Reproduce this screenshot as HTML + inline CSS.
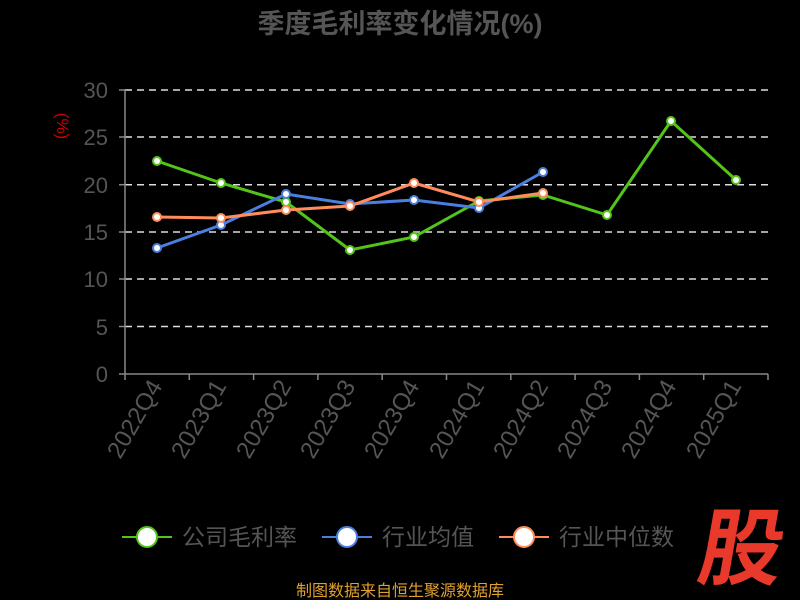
<!DOCTYPE html>
<html><head><meta charset="utf-8"><style>
body{margin:0;background:#000;width:800px;height:600px;overflow:hidden}
svg{display:block}
text{font-family:"Liberation Sans","Noto Sans CJK SC",sans-serif}
</style></head><body>
<svg width="800" height="600" viewBox="0 0 800 600">
<rect width="800" height="600" fill="#000"/>
<text x="400" y="33" text-anchor="middle" font-size="27" font-weight="bold" fill="#555">季度毛利率变化情况(%)</text>
<text x="0" y="0" transform="translate(57,126) rotate(90)" text-anchor="middle" font-size="17" fill="#c00">(%)</text>
<g stroke="#ddd" stroke-width="1.5" stroke-dasharray="7,5">
<line x1="125" y1="90" x2="768" y2="90"/><line x1="125" y1="137" x2="768" y2="137"/>
<line x1="125" y1="184.7" x2="768" y2="184.7"/><line x1="125" y1="232" x2="768" y2="232"/>
<line x1="125" y1="279" x2="768" y2="279"/><line x1="125" y1="326.5" x2="768" y2="326.5"/>
</g>
<g stroke="#888" stroke-width="1.5">
<line x1="125" y1="90" x2="125" y2="374"/><line x1="125" y1="374" x2="768" y2="374"/>
<line x1="119" y1="90" x2="125" y2="90"/><line x1="119" y1="137" x2="125" y2="137"/><line x1="119" y1="184.7" x2="125" y2="184.7"/><line x1="119" y1="232" x2="125" y2="232"/><line x1="119" y1="279" x2="125" y2="279"/><line x1="119" y1="326.5" x2="125" y2="326.5"/><line x1="119" y1="374" x2="125" y2="374"/>
<line x1="125" y1="374" x2="125" y2="380"/><line x1="189.3" y1="374" x2="189.3" y2="380"/><line x1="253.6" y1="374" x2="253.6" y2="380"/><line x1="317.9" y1="374" x2="317.9" y2="380"/><line x1="382.2" y1="374" x2="382.2" y2="380"/><line x1="446.5" y1="374" x2="446.5" y2="380"/><line x1="510.8" y1="374" x2="510.8" y2="380"/><line x1="575.1" y1="374" x2="575.1" y2="380"/><line x1="639.4" y1="374" x2="639.4" y2="380"/><line x1="703.7" y1="374" x2="703.7" y2="380"/><line x1="768" y1="374" x2="768" y2="380"/>
</g>
<g font-size="22" fill="#555" text-anchor="end">
<text x="108" y="98">30</text><text x="108" y="145">25</text><text x="108" y="193">20</text><text x="108" y="240">15</text><text x="108" y="287">10</text><text x="108" y="335">5</text><text x="108" y="382">0</text>
</g>
<g font-size="24" fill="#555" text-anchor="end">
<text transform="translate(163,386) rotate(-60)">2022Q4</text>
<text transform="translate(227,386) rotate(-60)">2023Q1</text>
<text transform="translate(292,386) rotate(-60)">2023Q2</text>
<text transform="translate(356,386) rotate(-60)">2023Q3</text>
<text transform="translate(420,386) rotate(-60)">2023Q4</text>
<text transform="translate(485,386) rotate(-60)">2024Q1</text>
<text transform="translate(549,386) rotate(-60)">2024Q2</text>
<text transform="translate(613,386) rotate(-60)">2024Q3</text>
<text transform="translate(677,386) rotate(-60)">2024Q4</text>
<text transform="translate(742,386) rotate(-60)">2025Q1</text>
</g>
<g fill="none" stroke-width="3">
<polyline stroke="#52c41a" points="157,161 221,183 286,202 350,250 414,237 479,201 543,195 607,215 671,121 736,180"/>
<polyline stroke="#4a7fe0" points="157,248 221,225 286,194 350,204 414,200 479,208 543,172"/>
<polyline stroke="#ff8c5a" points="157,217 221,218 286,210 350,206 414,183 479,202 543,193"/>
</g>
<g fill="#fff" stroke-width="2">
<g stroke="#52c41a"><circle cx="157" cy="161" r="4"/><circle cx="221" cy="183" r="4"/><circle cx="286" cy="202" r="4"/><circle cx="350" cy="250" r="4"/><circle cx="414" cy="237" r="4"/><circle cx="479" cy="201" r="4"/><circle cx="543" cy="195" r="4"/><circle cx="607" cy="215" r="4"/><circle cx="671" cy="121" r="4"/><circle cx="736" cy="180" r="4"/></g>
<g stroke="#4a7fe0"><circle cx="157" cy="248" r="4"/><circle cx="221" cy="225" r="4"/><circle cx="286" cy="194" r="4"/><circle cx="350" cy="204" r="4"/><circle cx="414" cy="200" r="4"/><circle cx="479" cy="208" r="4"/><circle cx="543" cy="172" r="4"/></g>
<g stroke="#ff8c5a"><circle cx="157" cy="217" r="4"/><circle cx="221" cy="218" r="4"/><circle cx="286" cy="210" r="4"/><circle cx="350" cy="206" r="4"/><circle cx="414" cy="183" r="4"/><circle cx="479" cy="202" r="4"/><circle cx="543" cy="193" r="4"/></g>
</g>
<g stroke-width="2">
<line x1="122" y1="537" x2="172" y2="537" stroke="#52c41a"/><circle cx="147" cy="537" r="10" fill="#fff" stroke="#52c41a"/>
<line x1="322" y1="537" x2="372" y2="537" stroke="#4a7fe0"/><circle cx="347" cy="537" r="10" fill="#fff" stroke="#4a7fe0"/>
<line x1="499" y1="537" x2="549" y2="537" stroke="#ff8c5a"/><circle cx="524" cy="537" r="10" fill="#fff" stroke="#ff8c5a"/>
</g>
<g font-size="23" fill="#555">
<text x="182" y="545">公司毛利率</text><text x="382" y="545">行业均值</text><text x="559" y="545">行业中位数</text>
</g>
<text x="0" y="0" transform="translate(737,578) skewX(-10)" text-anchor="middle" font-size="84" font-weight="bold" fill="#e8392b">股</text>
<text x="400" y="596" text-anchor="middle" font-size="16" fill="#e0a030">制图数据来自恒生聚源数据库</text>
</svg>
</body></html>
